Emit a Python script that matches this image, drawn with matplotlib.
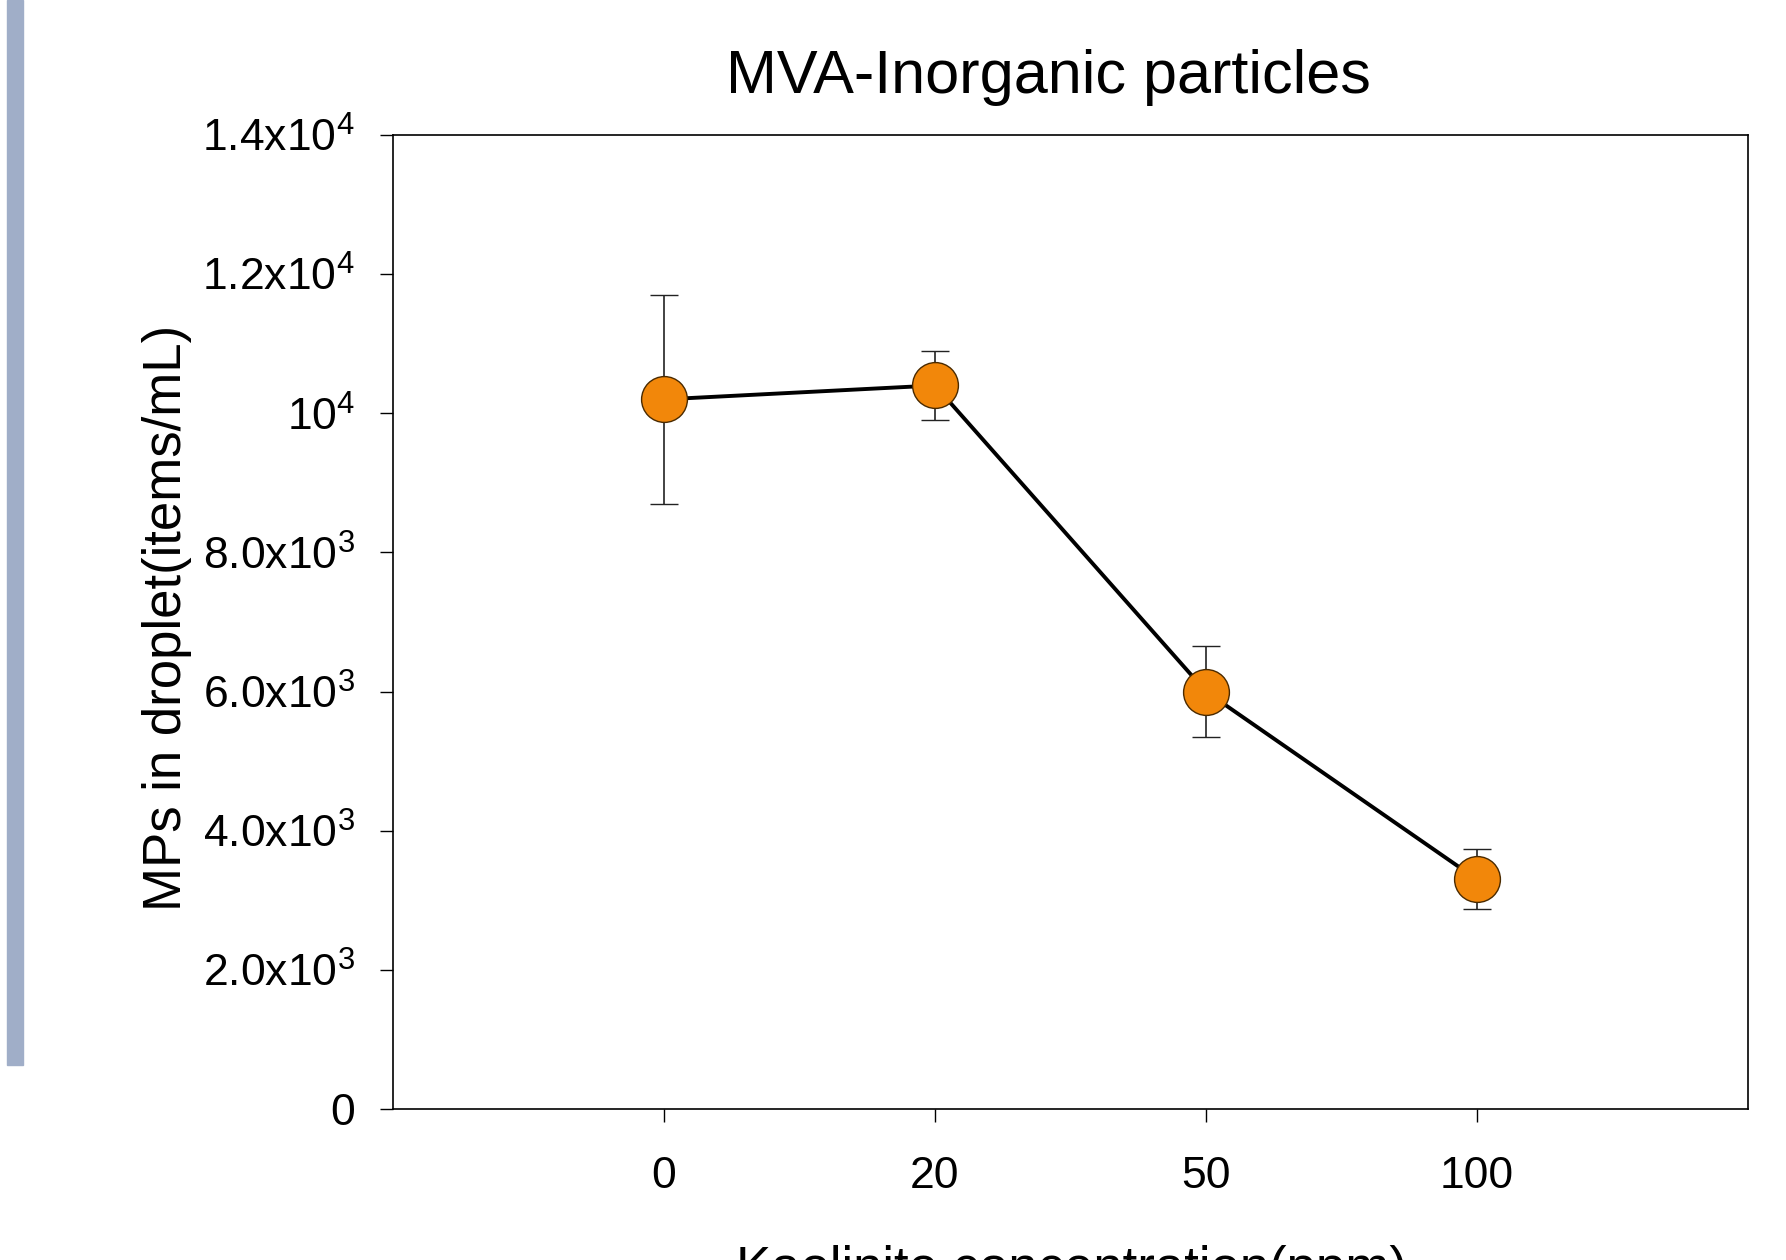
import matplotlib
matplotlib.use('Agg')
import matplotlib.pyplot as plt
from matplotlib.patches import Rectangle
import numpy as np

plt.rcParams['font.family'] = ['Liberation Sans', 'DejaVu Sans']
plt.rcParams['mathtext.fontset'] = 'custom'
plt.rcParams['mathtext.rm'] = 'Liberation Sans'
plt.rcParams['mathtext.it'] = 'Liberation Sans:italic'
plt.rcParams['mathtext.bf'] = 'Liberation Sans:bold'
plt.rcParams['mathtext.default'] = 'regular'

# data
conc_labels = ['0', '20', '50', '100']
mps_mean = [10200, 10400, 6000, 3300]
mps_err = [1500, 500, 650, 430]

y_ticks = [0, 2000, 4000, 6000, 8000, 10000, 12000, 14000]
y_tick_labels = ['0', '2.0x10$^{3}$', '4.0x10$^{3}$', '6.0x10$^{3}$',
                 '8.0x10$^{3}$', '10$^{4}$', '1.2x10$^{4}$', '1.4x10$^{4}$']

W, H = 1786, 1260
fig = plt.figure(figsize=(W / 100, H / 100), dpi=100)
ax = fig.add_axes([393 / W, 1 - 1109 / H, (1748 - 393) / W, (1109 - 135) / H])

x = np.arange(len(conc_labels))
ax.errorbar(x, mps_mean, yerr=mps_err, fmt='-o', color='black', lw=2.8,
            ecolor='#222222', elinewidth=1.2, capsize=10, capthick=1.2,
            marker='o', markersize=33, markerfacecolor='#F2870A',
            markeredgecolor='#4a2a00', markeredgewidth=1.0)

ax.set_xlim(-1, 4)
ax.set_ylim(0, 14000)
ax.set_xticks(x)
ax.set_xticklabels(conc_labels)
ax.set_yticks(y_ticks)
ax.set_yticklabels(y_tick_labels)

ax.tick_params(axis='both', direction='out', length=9.5, width=1.0, labelsize=32)
ax.tick_params(axis='y', pad=18)
ax.tick_params(axis='x', pad=24)
for s in ax.spines.values():
    s.set_linewidth(1.2)
    s.set_color('black')

fig.text(1048 / W, 1 - 93 / H, 'MVA-Inorganic particles', ha='center',
         va='baseline', fontsize=44)
fig.text(167 / W, 1 - 618 / H, 'MPs in droplet(items/mL)', rotation=90,
         ha='center', va='center', fontsize=38)
fig.text(1071 / W, 1 - 1245 / H, 'Kaolinite concentration(ppm)', ha='center',
         va='top', fontsize=38)

# decorative slide bar on the left
fig.patches.append(Rectangle((7 / W, 1 - 1065 / H), 16 / W, 1065 / H,
                             transform=fig.transFigure, color='#A0AEC8', zorder=0))

fig.savefig('out.png', dpi=100)
